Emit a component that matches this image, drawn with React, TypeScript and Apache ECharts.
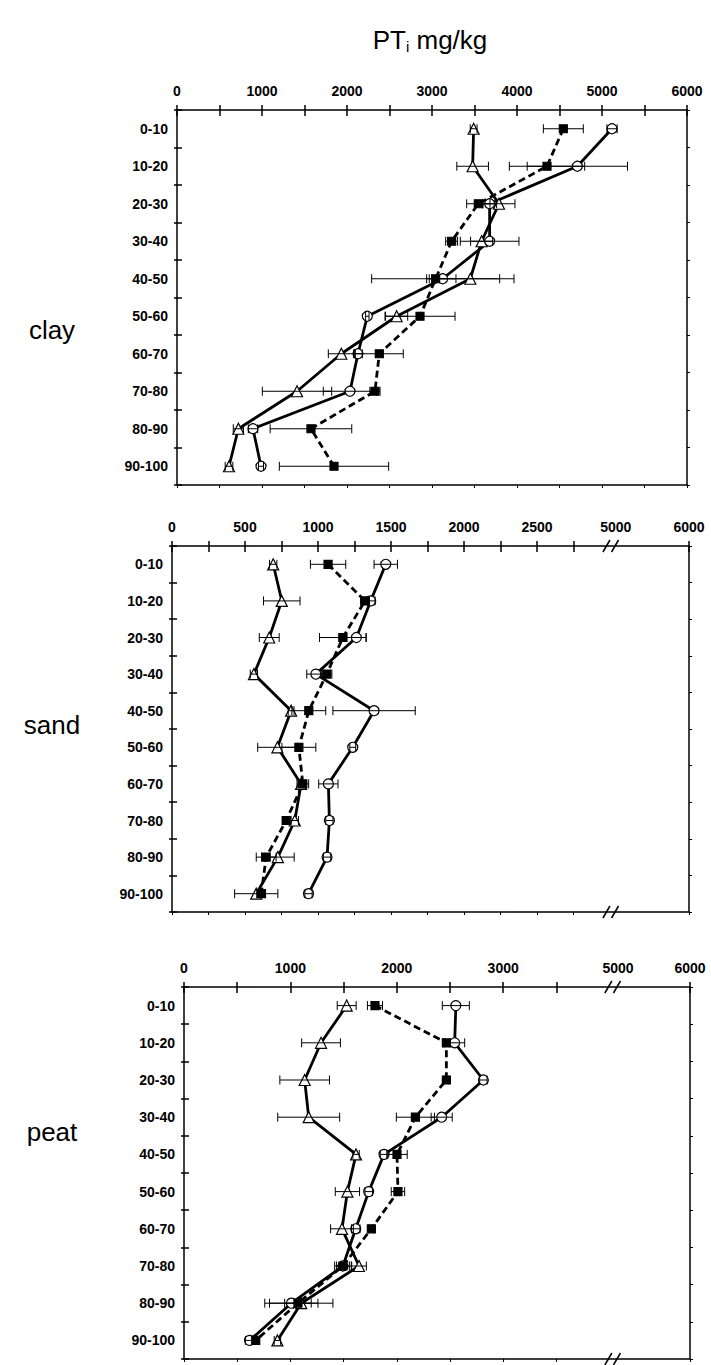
import React, { useEffect, useRef } from "react";
import * as echarts from "echarts";

// Depth classes (cm), shared by all three soil panels
const DEPTHS = ["0-10", "10-20", "20-30", "30-40", "40-50", "50-60", "60-70", "70-80", "80-90", "90-100"];

// Clay: total P (mg/kg) and half-width of the error bars
const CLAY_TRIANGLE = [3490, 3478, 3788, 3584, 3451, 2584, 1933, 1412, 722, 612];
const CLAY_TRIANGLE_ERR = [40, 186, 188, 130, 514, 130, 153, 408, 60, 45];
const CLAY_CIRCLE = [5118, 4710, 3678, 3678, 3125, 2239, 2129, 2035, 894, 988];
const CLAY_CIRCLE_ERR = [60, 590, 82, 345, 157, 20, 50, 314, 55, 30];
const CLAY_SQUARE = [4545, 4353, 3545, 3231, 3043, 2859, 2380, 2329, 1576, 1847];
const CLAY_SQUARE_ERR = [235, 443, 137, 70, 753, 412, 282, 60, 480, 643];

// Sand
const SAND_TRIANGLE = [693, 752, 666, 561, 816, 722, 884, 841, 725, 577];
const SAND_TRIANGLE_ERR = [25, 125, 68, 25, 20, 135, 20, 25, 112, 148];
const SAND_CIRCLE = [1464, 1361, 1263, 985, 1384, 1238, 1071, 1078, 1062, 935];
const SAND_CIRCLE_ERR = [80, 30, 66, 62, 282, 20, 66, 25, 25, 25];
const SAND_SQUARE = [1069, 1322, 1170, 1060, 937, 869, 896, 782, 645, 611];
const SAND_SQUARE_ERR = [121, 30, 160, 35, 116, 116, 40, 25, 68, 30];

// Peat
const PEAT_TRIANGLE = [1529, 1288, 1134, 1172, 1617, 1536, 1485, 1645, 1102, 878];
const PEAT_TRIANGLE_ERR = [89, 182, 233, 291, 30, 114, 107, 69, 298, 30];
const PEAT_CIRCLE = [2555, 2544, 2814, 2422, 1880, 1736, 1614, 1494, 1009, 617];
const PEAT_CIRCLE_ERR = [127, 94, 35, 99, 35, 35, 40, 78, 250, 40];
const PEAT_SQUARE = [1795, 2466, 2466, 2175, 2002, 2011, 1761, 1494, 1071, 674];
const PEAT_SQUARE_ERR = [71, 30, 20, 179, 96, 63, 20, 60, 125, 30];

// Axis tick labels. The sand and peat axes are broken after the last
// linear tick; "5000" and "6000" sit on compressed positions past the break.
const CLAY_TICK_LABELS = ["0", "1000", "2000", "3000", "4000", "5000", "6000"];
const SAND_TICK_LABELS = ["0", "500", "1000", "1500", "2000", "2500", "5000", "6000"];
const PEAT_TICK_LABELS = ["0", "1000", "2000", "3000", "5000", "6000"];

const SOIL_NAMES = ["clay", "sand", "peat"];

const FONT = "'Liberation Sans', Arial, Helvetica, sans-serif";

type Panel = {
  grid: { left: number; top: number; width: number; height: number };
  max: number;
  tickValues: number[];
  labelValues: number[];
  labels: string[];
  breakAt: number | null;
  triangle: number[];
  triangleErr: number[];
  circle: number[];
  circleErr: number[];
  square: number[];
  squareErr: number[];
  nameY: number;
};

const range = (from: number, to: number, step: number) => {
  const out: number[] = [];
  for (let v = from; v <= to + 1e-9; v += step) out.push(v);
  return out;
};

const PANELS: Panel[] = [
  {
    grid: { left: 177, top: 110, width: 510, height: 375 },
    max: 6000,
    tickValues: range(0, 6000, 500),
    labelValues: range(0, 6000, 1000),
    labels: CLAY_TICK_LABELS,
    breakAt: null,
    triangle: CLAY_TRIANGLE,
    triangleErr: CLAY_TRIANGLE_ERR,
    circle: CLAY_CIRCLE,
    circleErr: CLAY_CIRCLE_ERR,
    square: CLAY_SQUARE,
    squareErr: CLAY_SQUARE_ERR,
    nameY: 330,
  },
  {
    grid: { left: 172, top: 546, width: 517, height: 366 },
    max: 3541,
    tickValues: [...range(0, 2750, 250), 3541],
    labelValues: [...range(0, 2500, 500), 3039, 3541],
    labels: SAND_TICK_LABELS,
    breakAt: 3005,
    triangle: SAND_TRIANGLE,
    triangleErr: SAND_TRIANGLE_ERR,
    circle: SAND_CIRCLE,
    circleErr: SAND_CIRCLE_ERR,
    square: SAND_SQUARE,
    squareErr: SAND_SQUARE_ERR,
    nameY: 725,
  },
  {
    grid: { left: 184, top: 987, width: 506, height: 372 },
    max: 4756,
    tickValues: [...range(0, 3500, 500), 4756],
    labelValues: [...range(0, 3000, 1000), 4079, 4756],
    labels: PEAT_TICK_LABELS,
    breakAt: 4029,
    triangle: PEAT_TRIANGLE,
    triangleErr: PEAT_TRIANGLE_ERR,
    circle: PEAT_CIRCLE,
    circleErr: PEAT_CIRCLE_ERR,
    square: PEAT_SQUARE,
    squareErr: PEAT_SQUARE_ERR,
    nameY: 1132,
  },
];

const BLACK = "#000";

function errorBarRenderer(params: any, api: any) {
  const cat = api.value(0);
  const lo = api.coord([api.value(1), cat]);
  const hi = api.coord([api.value(2), cat]);
  const h = 4.5;
  const style = { stroke: BLACK, lineWidth: 1 };
  return {
    type: "group",
    children: [
      { type: "line", shape: { x1: lo[0], y1: lo[1], x2: hi[0], y2: hi[1] }, style },
      { type: "line", shape: { x1: lo[0], y1: lo[1] - h, x2: lo[0], y2: lo[1] + h }, style },
      { type: "line", shape: { x1: hi[0], y1: hi[1] - h, x2: hi[0], y2: hi[1] + h }, style },
    ],
  };
}

function buildOption() {
  const grid: any[] = [];
  const xAxis: any[] = [];
  const yAxis: any[] = [];
  const series: any[] = [];

  PANELS.forEach((p, pi) => {
    grid.push({ ...p.grid, containLabel: false });
    const lineStyle = { color: BLACK, width: 1.5 };
    const fmt = (v: number) => {
      const idx = p.labelValues.findIndex((lv) => Math.abs(lv - v) < 1e-6);
      return idx >= 0 ? p.labels[idx] : "";
    };
    const common = { type: "value", gridIndex: pi, min: 0, max: p.max, splitLine: { show: false } };
    // top axis with labels and outward ticks
    xAxis.push({
      ...common,
      position: "top",
      axisLine: { show: true, onZero: false, lineStyle },
      axisTick: { show: true, inside: false, length: 5, customValues: p.tickValues, lineStyle },
      axisLabel: {
        show: true,
        customValues: p.labelValues,
        formatter: fmt,
        margin: 12,
        color: BLACK,
        fontFamily: FONT,
        fontWeight: "bold",
        fontSize: 14,
        showMinLabel: true,
        showMaxLabel: true,
      },
    });
    // inward half of the crossing ticks on the top axis
    xAxis.push({
      ...common,
      position: "top",
      axisLine: { show: false, onZero: false },
      axisTick: { show: true, inside: true, length: 6, customValues: p.tickValues, lineStyle },
      axisLabel: { show: false },
    });
    // bottom frame
    xAxis.push({
      ...common,
      position: "bottom",
      axisLine: { show: true, onZero: false, lineStyle },
      axisTick: { show: true, inside: false, length: 3, customValues: p.tickValues, lineStyle: { color: BLACK, width: 1 } },
      axisLabel: { show: false },
    });

    const catCommon = { type: "category", gridIndex: pi, data: DEPTHS, inverse: true, splitLine: { show: false } };
    yAxis.push({
      ...catCommon,
      position: "left",
      axisLine: { show: true, onZero: false, lineStyle },
      axisTick: { show: true, inside: false, length: 3, lineStyle },
      axisLabel: {
        show: true,
        margin: 9,
        color: BLACK,
        fontFamily: FONT,
        fontWeight: "bold",
        fontSize: 14,
      },
    });
    yAxis.push({
      ...catCommon,
      position: "left",
      axisLine: { show: false, onZero: false },
      axisTick: { show: true, inside: true, length: 5, lineStyle },
      axisLabel: { show: false },
    });
    yAxis.push({
      ...catCommon,
      position: "right",
      axisLine: { show: true, onZero: false, lineStyle },
      axisTick: { show: true, inside: false, length: 3, lineStyle: { color: BLACK, width: 1 } },
      axisLabel: { show: false },
    });

    const xi = pi * 3;
    const yi = pi * 3;
    const groups = [
      { vals: p.triangle, err: p.triangleErr, symbol: "triangle", size: 11, fill: "#fff", dashed: false },
      { vals: p.circle, err: p.circleErr, symbol: "circle", size: 10, fill: "#fff", dashed: false },
      { vals: p.square, err: p.squareErr, symbol: "rect", size: 8, fill: BLACK, dashed: true },
    ];
    groups.forEach((g) => {
      series.push({
        type: "line",
        xAxisIndex: xi,
        yAxisIndex: yi,
        data: g.vals.map((v, i) => [v, i]),
        symbol: g.symbol,
        symbolSize: g.size,
        showAllSymbol: true,
        itemStyle: { color: g.fill, borderColor: BLACK, borderWidth: 1.2 },
        lineStyle: { color: BLACK, width: 2.8, type: g.dashed ? [7, 4] : "solid" },
        z: 2,
        silent: true,
      });
      series.push({
        type: "custom",
        xAxisIndex: xi,
        yAxisIndex: yi,
        data: g.vals.map((v, i) => [i, v - g.err[i], v + g.err[i]]),
        encode: { x: [1, 2], y: 0 },
        renderItem: errorBarRenderer,
        z: 3,
        silent: true,
      });
    });
  });

  return {
    animation: false,
    backgroundColor: "#fff",
    grid,
    xAxis,
    yAxis,
    series,
  };
}

function buildGraphics(chart: echarts.ECharts) {
  const elements: any[] = [];
  elements.push({
    type: "text",
    x: 430,
    y: 40,
    style: {
      text: "PT{sub|i} mg/kg",
      rich: { sub: { fontSize: 15, fontFamily: FONT, verticalAlign: "bottom", padding: [12, 0, 0, 0] } },
      font: `26px ${FONT}`,
      fontSize: 26,
      fontFamily: FONT,
      fill: BLACK,
      align: "center",
      verticalAlign: "middle",
    },
  });
  PANELS.forEach((p, pi) => {
    elements.push({
      type: "text",
      x: 52,
      y: p.nameY,
      style: {
        text: SOIL_NAMES[pi],
        fontSize: 26,
        fontFamily: FONT,
        fill: BLACK,
        align: "center",
        verticalAlign: "middle",
      },
    });
    if (p.breakAt !== null) {
      const px = chart.convertToPixel({ xAxisIndex: pi * 3 }, p.breakAt) as unknown as number;
      const ys = [p.grid.top, p.grid.top + p.grid.height];
      ys.forEach((y) => {
        [-4.3, 4.3].forEach((dx) => {
          elements.push({
            type: "line",
            shape: { x1: px + dx - 3.5, y1: y + 6, x2: px + dx + 3.5, y2: y - 6 },
            style: { stroke: BLACK, lineWidth: 1.5 },
            z: 10,
          });
        });
      });
    }
  });
  return elements;
}

export default function App() {
  const ref = useRef<HTMLDivElement>(null);
  useEffect(() => {
    if (!ref.current) return;
    const chart = echarts.init(ref.current, undefined, { renderer: "svg" });
    chart.setOption(buildOption() as any);
    chart.setOption({ graphic: buildGraphics(chart) } as any);
    return () => chart.dispose();
  }, []);
  return (
    <div
      ref={ref}
      style={{ position: "fixed", left: 0, top: 0, width: 711, height: 1365, background: "#fff" }}
    />
  );
}
